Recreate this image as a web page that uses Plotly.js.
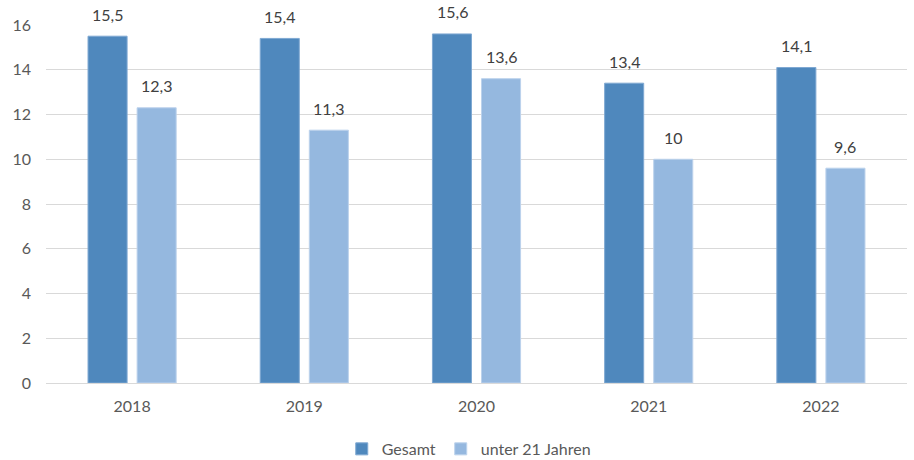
<!DOCTYPE html>
<html>
<head>
<meta charset="utf-8">
<script src="https://cdn.plot.ly/plotly-3.0.1.min.js"></script>
<style>html,body{margin:0;padding:0;background:#fff;}#chart{width:914px;height:460px;}</style>
</head>
<body>
<div id="chart"></div>
<script>
const years = ['2018', '2019', '2020', '2021', '2022'];
const gesamt = [15.5, 15.4, 15.6, 13.4, 14.1];
const unter21 = [12.3, 11.3, 13.6, 10, 9.6];
const seriesNames = ['Gesamt', 'unter 21 Jahren'];
const colors = ['#4F88BD', '#95B8DF'];
const yTicks = [0, 2, 4, 6, 8, 10, 12, 14, 16];

const fontFam = 'Lato, "Open Sans", sans-serif';
const fmt = v => String(v).replace('.', ',');

const traces = [gesamt, unter21].map((vals, i) => ({
  type: 'bar',
  name: seriesNames[i],
  x: years,
  y: vals,
  marker: {color: colors[i], line: {color: i === 0 ? '#7FA8D2' : '#BCD2EC', width: 1}},
  hoverinfo: 'x+y'
}));

const annotations = [];
[gesamt, unter21].forEach((vals, i) => {
  vals.forEach((v, j) => {
    annotations.push({
      x: j, y: v, xref: 'x', yref: 'y',
      text: fmt(v), showarrow: false,
      xshift: i === 0 ? -24.5 : 24.5, yshift: 22,
      yanchor: 'middle', xanchor: 'center',
      font: {family: fontFam, size: 16, color: '#404040'}
    });
  });
});

const layout = {
  width: 914, height: 460,
  margin: {l: 46, r: 7, t: 25, b: 77},
  paper_bgcolor: '#fff', plot_bgcolor: '#fff',
  barmode: 'group',
  bargap: 0.43,
  bargroupgap: 0.204,
  showlegend: true,
  legend: {
    orientation: 'h', x: 0.491, xanchor: 'center',
    yref: 'container', y: 0.024, yanchor: 'middle',
    font: {family: fontFam, size: 16, color: '#595959'},
    itemwidth: 30, traceorder: 'normal'
  },
  xaxis: {
    type: 'category',
    range: [-0.5, years.length - 0.5], autorange: false,
    showgrid: false, zeroline: false, showline: false,
    ticks: '', ticklen: 0, ticklabelstandoff: 12,
    tickfont: {family: fontFam, size: 16, color: '#595959'}
  },
  yaxis: {
    range: [0, 16], autorange: false, tickvals: yTicks, ticktext: yTicks.map(String),
    showgrid: true, gridcolor: '#D9D9D9', gridwidth: 1,
    zeroline: true, zerolinecolor: '#D9D9D9', zerolinewidth: 1,
    showline: false, ticks: '', ticklabelstandoff: 14,
    tickfont: {family: fontFam, size: 16, color: '#595959'}
  },
  annotations: annotations,
  separators: ',.'
};

Plotly.newPlot('chart', traces, layout, {displayModeBar: false, staticPlot: true});
</script>
</body>
</html>
